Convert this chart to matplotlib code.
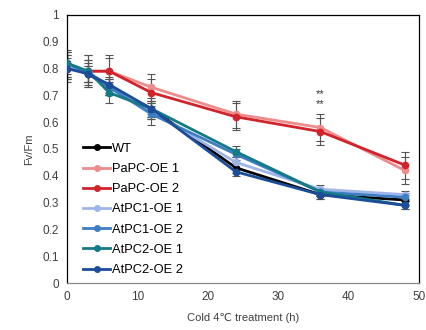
import matplotlib
matplotlib.use("Agg")
import matplotlib.pyplot as plt

plt.rcParams['font.family'] = ['Liberation Sans', 'DejaVu Sans']

hours = [0, 3, 6, 12, 24, 36, 48]
series_names = ["WT", "PaPC-OE 1", "PaPC-OE 2", "AtPC1-OE 1", "AtPC1-OE 2", "AtPC2-OE 1", "AtPC2-OE 2"]
wt = [0.81, 0.78, 0.73, 0.65, 0.43, 0.33, 0.31]
papc1 = [0.81, 0.79, 0.79, 0.73, 0.63, 0.58, 0.42]
papc2 = [0.80, 0.79, 0.79, 0.71, 0.62, 0.565, 0.44]
atpc1_1 = [0.81, 0.79, 0.73, 0.64, 0.45, 0.35, 0.33]
atpc1_2 = [0.82, 0.78, 0.73, 0.63, 0.48, 0.34, 0.32]
atpc2_1 = [0.82, 0.79, 0.71, 0.65, 0.49, 0.34, 0.29]
atpc2_2 = [0.80, 0.78, 0.74, 0.65, 0.415, 0.33, 0.29]
err_wt = [0.04, 0.03, 0.03, 0.03, 0.02, 0.015, 0.02]
err_papc1 = [0.05, 0.06, 0.05, 0.05, 0.05, 0.05, 0.05]
err_papc2 = [0.05, 0.06, 0.06, 0.05, 0.05, 0.05, 0.05]
err_atpc1_1 = [0.05, 0.04, 0.03, 0.03, 0.02, 0.015, 0.015]
err_atpc1_2 = [0.04, 0.04, 0.03, 0.04, 0.02, 0.015, 0.015]
err_atpc2_1 = [0.05, 0.04, 0.04, 0.04, 0.02, 0.015, 0.015]
err_atpc2_2 = [0.04, 0.03, 0.03, 0.03, 0.015, 0.015, 0.015]
series_colors = ["#000000", "#EE8C8C", "#D0232B", "#9FB4E8", "#3C7DC4", "#137A86", "#1C4D99"]
star_x = 36
star_y = [0.705, 0.668]
x_ticks = [0, 10, 20, 30, 40, 50]
y_ticks = [0, 0.1, 0.2, 0.3, 0.4, 0.5, 0.6, 0.7, 0.8, 0.9, 1]

fig = plt.figure(figsize=(4.27, 3.30), dpi=100)
ax = fig.add_axes([0.157, 0.142, 0.824, 0.813])

data = [wt, papc1, papc2, atpc1_1, atpc1_2, atpc2_1, atpc2_2]
errs = [err_wt, err_papc1, err_papc2, err_atpc1_1, err_atpc1_2, err_atpc2_1, err_atpc2_2]

for name, y, e, c in zip(series_names, data, errs, series_colors):
    ax.errorbar(hours, y, yerr=e, fmt='none', ecolor='#555555', elinewidth=0.8,
                capsize=3, capthick=0.8, zorder=2)
for name, y, c in zip(series_names, data, series_colors):
    ax.plot(hours, y, color=c, marker='o', markersize=4.5, linewidth=2.0,
            label=name, zorder=3)

for sy in star_y:
    ax.text(star_x, sy, "**", ha='center', va='center', fontsize=8, color='#333333')

ax.set_xlim(0, 50)
ax.set_ylim(0, 1)
ax.set_xticks(x_ticks)
ax.set_yticks(y_ticks)
ax.set_xticklabels([str(t) for t in x_ticks])
ax.set_yticklabels(["0", "0.1", "0.2", "0.3", "0.4", "0.5", "0.6", "0.7", "0.8", "0.9", "1"])
ax.tick_params(length=0, labelsize=8.5, labelcolor='#404040', pad=6)
for s in ax.spines.values():
    s.set_color('#000000')
    s.set_linewidth(0.9)
ax.spines['bottom'].set_color('#888888')

ax.set_xlabel("Cold 4℃ treatment (h)", fontsize=8, color='#404040', labelpad=7)
ax.set_ylabel("Fv/Fm", fontsize=8, color='#404040', labelpad=6)

leg = ax.legend(loc='lower left', bbox_to_anchor=(0.025, 0.0), frameon=False,
                fontsize=9.3, handlelength=2.1, handletextpad=0.15,
                labelspacing=0.63, borderaxespad=0.15)
for h in leg.legend_handles:
    h.set_linewidth(2.0)
    h.set_markersize(4)

fig.savefig("out.png", dpi=100)
